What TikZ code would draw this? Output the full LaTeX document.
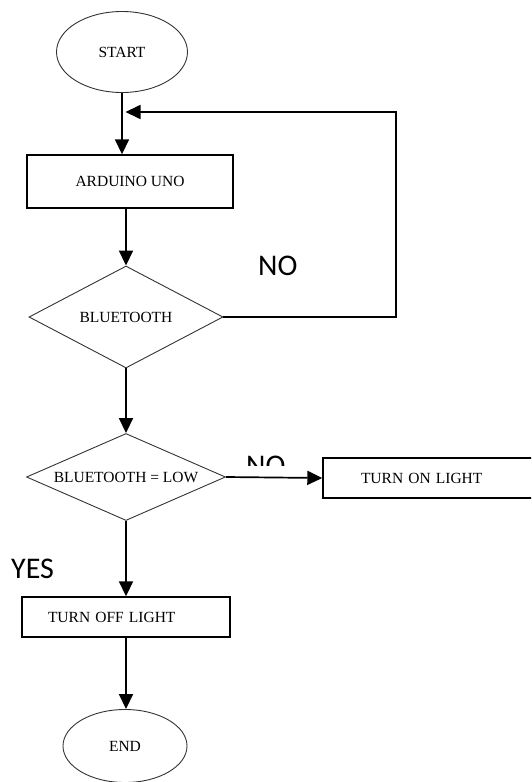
\documentclass[tikz,border=0pt]{standalone}
\usepackage{fontspec}
\setmainfont{Liberation Serif}
\newfontfamily\lblfont{Carlito}
\usetikzlibrary{shapes.geometric,arrows.meta}
\begin{document}
\begin{tikzpicture}[x=1pt,y=-1pt,
  txt/.style={font=\fontsize{15.5}{18}\selectfont},
  box/.style={draw, line width=1.4pt, inner sep=0pt, txt},
  oval/.style={ellipse, draw=black!80, line width=0.9pt, inner sep=0pt, txt},
  decision/.style={diamond, draw=black!80, line width=0.9pt, inner sep=0pt, txt},
  conn/.style={line width=1.7pt, -{Triangle[length=15pt,width=14pt]}},
  lbl/.style={font=\lblfont\fontsize{30}{36}\selectfont, inner sep=0pt}
]
\useasboundingbox (0,0) rectangle (531,782);
\clip (0,0) rectangle (531,782);

\node[oval, minimum width=131pt, minimum height=81pt] (start) at (122,52) {START};
\node[box, minimum width=206pt, minimum height=53pt] (ard) at (130,181.5) {ARDUINO UNO};
\node[decision, aspect=1.9, minimum width=194pt, minimum height=102pt] (bt) at (126,317) {BLUETOOTH};
\node[decision, aspect=2.29, minimum width=199pt, minimum height=87pt] (low) at (126,477) {BLUETOOTH = LOW};
\node[box, minimum height=40pt, text width=141pt, inner xsep=38pt, align=left] (on) at (431.5,478) {TURN ON LIGHT};
\node[box, minimum height=40pt, text width=156pt, inner xsep=26pt, align=left] (off) at (126,617) {TURN OFF LIGHT};
\node[oval, minimum width=124pt, minimum height=73pt] (end) at (125,746) {END};

\node[lbl, anchor=base west] (no1) at (258,275) {NO};
\begin{scope}
  \clip (200,440) rectangle (320,465);
  \node[lbl, anchor=base west] (no2) at (246,475) {NO};
\end{scope}
\node[lbl, anchor=base west] (yes) at (11,578) {YES};

\coordinate (jy) at (0,112);
\coordinate (rx) at (396,0);
\coordinate (join) at (125.5,112);

\draw[conn] (start.south) -- (start.south |- ard.north);
\draw[conn] (bt.east) -- (bt.east -| rx) -- (rx |- jy) -- (join);
\draw[conn] (bt.north |- ard.south) -- (bt.north);
\draw[conn] (bt.south) -- (low.north);
\draw[conn] (low.east) -- (on.west);
\draw[conn] (low.south) -- (low.south |- off.north);
\draw[conn] (off.south) -- (off.south |- end.north);
\end{tikzpicture}
\end{document}
